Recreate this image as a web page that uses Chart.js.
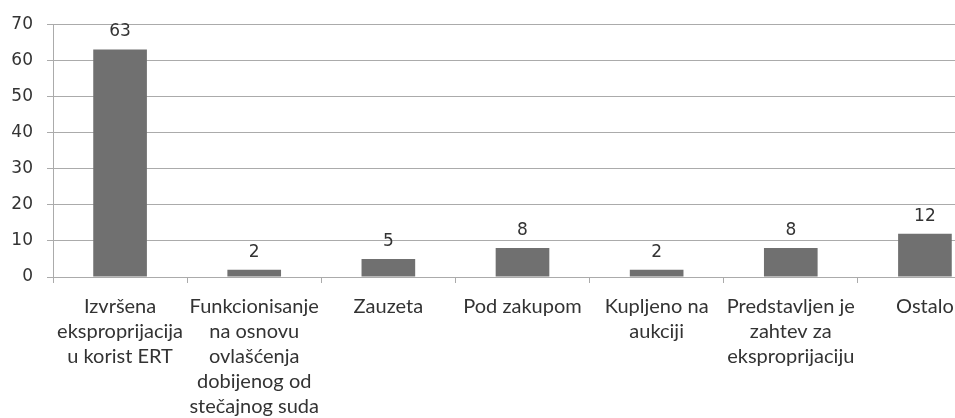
<!DOCTYPE html>
<html>
<head>
<meta charset="utf-8">
<script src="https://cdn.jsdelivr.net/npm/chart.js@4.4.0/dist/chart.umd.min.js"></script>
<style>
    html, body { margin: 0; padding: 0; background: #fff; overflow: hidden; }
    #wrap { width: 1000px; height: 418px; position: relative; }
</style>
</head>
<body>
<div id="wrap"><canvas id="chart"></canvas></div>
<script>
const categories = [
    ['Izvršena', 'eksproprijacija', 'u korist ERT'],
    ['Funkcionisanje', 'na osnovu', 'ovlašćenja', 'dobijenog od', 'stečajnog suda'],
    ['Zauzeta'],
    ['Pod zakupom'],
    ['Kupljeno na', 'aukciji'],
    ['Predstavljen je', 'zahtev za', 'eksproprijaciju'],
    ['Ostalo']
];
const values = [63, 2, 5, 8, 2, 8, 12];
const yMax = 70;
const yStep = 10;

const textColor = '#333333';
const gridColor = '#ababab';

// value labels above each bar
const valueLabels = {
    id: 'valueLabels',
    afterDatasetsDraw(chart) {
        const ctx = chart.ctx;
        const meta = chart.getDatasetMeta(0);
        ctx.save();
        ctx.font = '17px "DejaVu Sans"';
        ctx.fillStyle = textColor;
        ctx.textAlign = 'center';
        ctx.textBaseline = 'alphabetic';
        meta.data.forEach((bar, i) => {
            ctx.fillText(String(values[i]), bar.x, bar.y - 13);
        });
        ctx.restore();
    }
};

new Chart(document.getElementById('chart'), {
    type: 'bar',
    data: {
        labels: categories,
        datasets: [{
            data: values,
            backgroundColor: '#707070',
            borderWidth: 0,
            categoryPercentage: 1,
            barPercentage: 0.4
        }]
    },
    options: {
        responsive: true,
        maintainAspectRatio: false,
        animation: false,
        layout: { padding: { top: 21, right: 8, left: 0, bottom: 0 } },
        plugins: {
            legend: { display: false },
            tooltip: { enabled: false }
        },
        scales: {
            x: {
                grid: {
                    offset: true,
                    drawOnChartArea: false,
                    color: gridColor,
                    tickLength: 6
                },
                border: { color: gridColor },
                ticks: {
                    color: textColor,
                    font: { family: 'Lato', size: 20, lineHeight: '25px' },
                    maxRotation: 0,
                    autoSkip: false,
                    padding: 11
                },
                afterFit(scale) { scale.height = 141; }
            },
            y: {
                min: 0,
                max: yMax,
                ticks: {
                    stepSize: yStep,
                    color: textColor,
                    font: { family: 'DejaVu Sans', size: 17 },
                    padding: 14
                },
                grid: { color: gridColor, tickLength: 6 },
                border: { color: gridColor },
                afterFit(scale) { scale.width = 53; }
            }
        }
    },
    plugins: [valueLabels]
});
</script>
</body>
</html>
